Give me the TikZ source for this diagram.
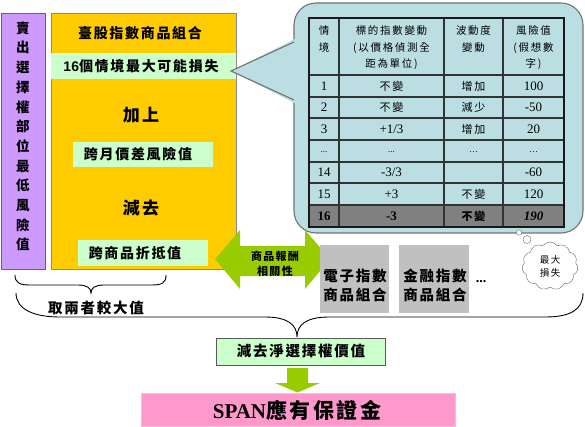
\documentclass[tikz,border=0pt]{standalone}
\usepackage{fontspec}
\setmainfont{Liberation Serif}
\newfontfamily\cjk[LetterSpace=12]{Noto Sans CJK TC}
\newfontfamily\cjkt[LetterSpace=16]{Noto Sans CJK TC}
\newfontfamily\cjkv{Noto Sans CJK TC}
\newfontfamily\arialf{Liberation Sans}
\usetikzlibrary{shapes.symbols,calc}
\definecolor{purp}{RGB}{204,153,255}
\definecolor{oran}{RGB}{255,204,0}
\definecolor{lgreen}{RGB}{204,255,204}
\definecolor{callblue}{RGB}{186,222,226}
\definecolor{gbox}{RGB}{192,192,192}
\definecolor{darkrow}{RGB}{128,128,128}
\definecolor{agreen}{RGB}{153,204,0}
\definecolor{pinkb}{RGB}{255,153,204}
\begin{document}
\begin{tikzpicture}[x=1pt,y=-1pt,
  box/.style={anchor=north west, inner sep=0pt, outer sep=0pt},
  lbl/.style={inner sep=0pt, font=\cjk\bfseries\fontsize{14}{16}\selectfont},
  thead/.style={anchor=north, inner sep=0pt, align=center, font=\cjkt\fontsize{10.5}{16.5}\selectfont},
  tnum/.style={inner sep=0pt, font=\fontsize{13}{14}\selectfont},
  tcjk/.style={inner sep=0pt, font=\cjkt\fontsize{11}{12}\selectfont},
  tline/.style={line width=1.1pt, draw=black!80},
  garrow/.style={fill=agreen, draw=none}
]
\useasboundingbox (0,0) rectangle (585,427);

% left purple column
\node[box, fill=purp, draw=black!60, minimum width=44pt, minimum height=256pt] (sell) at (1,13) {};
\node[anchor=north, inner sep=0pt, align=center, font=\cjkv\bfseries\fontsize{13.5}{19.7}\selectfont] (selltxt) at (23,21.5)
 {賣\\出\\選\\擇\\權\\部\\位\\最\\低\\風\\險\\值};

% orange block
\node[box, fill=oran, draw=black!45, minimum width=185pt, minimum height=256pt] (tw) at (51,13) {};
\node[lbl] (twtitle) at (140,33) {臺股指數商品組合};
\node[box, fill=lgreen, minimum width=185pt, minimum height=26pt] (scen) at (51,53) {};
\node[lbl] (scentxt) at (141,66) {{\arialf\bfseries 16}個情境最大可能損失};
\node[lbl, font=\cjk\bfseries\fontsize{17}{18}\selectfont] (plus) at (141,115) {加上};
\node[box, fill=lgreen, minimum width=140pt, minimum height=25pt] (spread) at (73,142) {};
\node[lbl] (spreadtxt) at (138,154.5) {跨月價差風險值};
\node[lbl, font=\cjk\bfseries\fontsize{17}{18}\selectfont] (minus) at (141,208) {減去};
\node[box, fill=lgreen, minimum width=130pt, minimum height=26pt] (credit) at (78,240) {};
\node[lbl] (credittxt) at (135,253) {跨商品折抵值};

% callout
\draw[draw=black!55, line width=1.1pt, fill=callblue, rounded corners=22pt] (294,3) rectangle (583,233);
\fill[callblue] (231,71) -- (296.5,38) -- (296.5,104) -- cycle;
\coordinate (tip) at (231,71);
\draw[draw=black!55, line width=1.1pt] (294,42) -- (tip) -- (294,100);

% table
\fill[darkrow] (309,205) rectangle (564,227);
\foreach \yy in {75,97,118,140,162,183,205} \draw[tline] (309,\yy) -- (564,\yy);
\foreach \xx in {339,444,503} \draw[tline] (\xx,18) -- (\xx,227);
\draw[line width=1.9pt, draw=black!90] (309,18) rectangle (564,227);

\node[thead] (h1) at (324,25.5) {情\\境};
\node[thead] (h2) at (391.5,25.5) {標的指數變動\\(以價格偵測全\\距為單位)};
\node[thead] (h3) at (473.5,25.5) {波動度\\變動};
\node[thead] (h4) at (533.5,25.5) {風險值\\(假想數\\字)};

\node[tnum] (r1a) at (324,86) {1};
\node[tcjk] (r1b) at (391.5,86) {不變};
\node[tcjk] (r1c) at (473.5,86) {增加};
\node[tnum] (r1d) at (533.5,86) {100};

\node[tnum] (r2a) at (324,107.5) {2};
\node[tcjk] (r2b) at (391.5,107.5) {不變};
\node[tcjk] (r2c) at (473.5,107.5) {減少};
\node[tnum] (r2d) at (533.5,107.5) {-50};

\node[tnum] (r3a) at (324,129) {3};
\node[tnum] (r3b) at (391.5,129) {+1/3};
\node[tcjk] (r3c) at (473.5,129) {增加};
\node[tnum] (r3d) at (533.5,129) {20};

\node[tnum, font=\fontsize{9}{10}\selectfont] (r4a) at (324,152) {...};
\node[tnum, font=\fontsize{9}{10}\selectfont] (r4b) at (391.5,152) {...};
\node[tnum, font=\fontsize{9}{10}\selectfont] (r4c) at (473.5,152) {…};
\node[tnum, font=\fontsize{9}{10}\selectfont] (r4d) at (533.5,152) {…};

\node[tnum] (r5a) at (324,172.5) {14};
\node[tnum] (r5b) at (391.5,172.5) {-3/3};
\node[tnum] (r5d) at (533.5,172.5) {-60};

\node[tnum] (r6a) at (324,194) {15};
\node[tnum] (r6b) at (391.5,194) {+3};
\node[tcjk] (r6c) at (473.5,194) {不變};
\node[tnum] (r6d) at (533.5,194) {120};

\node[tnum, font=\bfseries\fontsize{13}{14}\selectfont] (r7a) at (324,216) {16};
\node[tnum, font=\bfseries\fontsize{13}{14}\selectfont] (r7b) at (391.5,216) {-3};
\node[tcjk, font=\cjkt\bfseries\fontsize{11}{12}\selectfont] (r7c) at (473.5,216) {不變};
\node[tnum, font=\bfseries\itshape\fontsize{13}{14}\selectfont] (r7d) at (533.5,216) {190};

% thought bubble
\node[circle, draw=black!60, fill=white, minimum size=5.5pt, inner sep=0pt] (bub1) at (519,232.5) {};
\node[circle, draw=black!60, fill=white, minimum size=8pt, inner sep=0pt] (bub2) at (527,239.5) {};
\node[cloud, cloud puffs=11, cloud puff arc=110, aspect=1.1, draw=black!60, fill=white,
      minimum width=56pt, minimum height=48pt, inner sep=0pt, align=center,
      font=\cjkt\fontsize{9.5}{13}\selectfont] (maxloss) at (550,266) {最大\\損失};

% double arrow (correlation)
\fill[garrow] (215,259) -- (240,230) -- (240,246) -- (305,246) -- (305,230) -- (330,259)
  -- (305,289) -- (305,276) -- (240,276) -- (240,289) -- cycle;
\node[align=center, inner sep=0pt, font=\cjk\bfseries\fontsize{11}{15}\selectfont] (corr) at (275,264) {商品報酬\\相關性};

% other portfolios
\node[box, fill=gbox, minimum width=69pt, minimum height=68pt] (elec) at (320,245) {};
\node[align=center, inner sep=0pt, font=\cjk\bfseries\fontsize{14.5}{19}\selectfont] (electxt) at (355,285) {電子指數\\商品組合};
\node[box, fill=gbox, minimum width=70pt, minimum height=68pt] (fin) at (399,245) {};
\node[align=center, inner sep=0pt, font=\cjk\bfseries\fontsize{14.5}{19}\selectfont] (fintxt) at (435,285) {金融指數\\商品組合};
\node[inner sep=0pt, font=\bfseries\fontsize{14}{14}\selectfont] (dots) at (481,282) {...};

% braces
\draw[line width=0.9pt] (15,275) .. controls (15,283) and (20,285) .. (30,285)
  -- (78,285) .. controls (87,285) and (91,288) .. (91,293)
  .. controls (91,288) and (95,285) .. (104,285) -- (152,285)
  .. controls (162,285) and (166,283) .. (166,275);
\coordinate (btip) at (297,337);
\draw[line width=0.9pt] (16,293) .. controls (16,310) and (35,317) .. (60,317)
  -- (265,317) .. controls (288,317) and (297,325) .. (btip)
  .. controls (297,325) and (306,317) .. (329,317) -- (545,317)
  .. controls (570,317) and (583,310) .. (583,293);
\node[lbl, font=\cjk\bfseries\fontsize{14.5}{16}\selectfont] (maxof) at (96,308) {取兩者較大值};

% net option value & SPAN
\node[box, fill=lgreen, draw=black!65, line width=0.8pt, minimum width=169pt, minimum height=27pt] (net) at (216,338) {};
\node[lbl, font=\cjk\bfseries\fontsize{14.5}{16}\selectfont] (nettxt) at (301,351.5) {減去淨選擇權價值};
\node[box, fill=pinkb, draw=pinkb!70!white, minimum width=314pt, minimum height=33pt] (span) at (141,393) {};
\node[inner sep=0pt, font=\bfseries\fontsize{21}{22}\selectfont] (spantxt) at (297,410) {SPAN{\cjk\fontsize{21}{22}\selectfont 應有保證金}};
\fill[garrow] (287,368) -- (308,368) -- (308,383) -- (320,383) -- (297.5,392.5) -- (275,383) -- (287,383) -- cycle;
\end{tikzpicture}
\end{document}
